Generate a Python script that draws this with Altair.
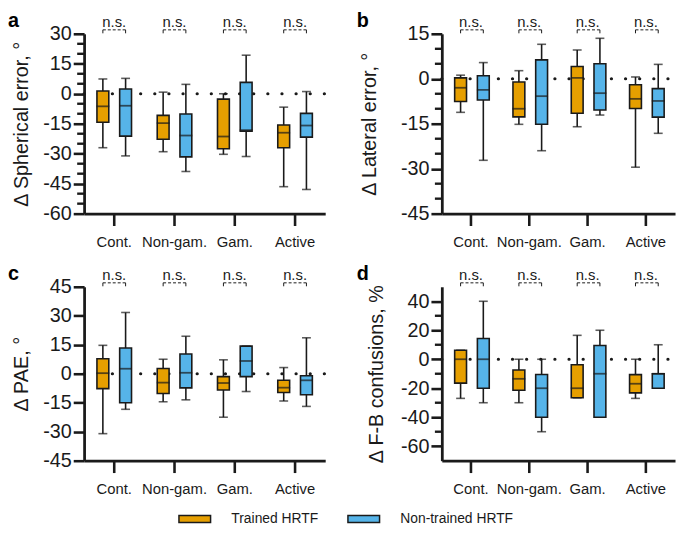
import altair as alt
import pandas as pd

cats = ["Cont.", "Non-gam.", "Gam.", "Active"]
groups = ["Trained HRTF", "Non-trained HRTF"]
colors = ["#E69F00", "#56B4E9"]

# box statistics per category: [whisker low, Q1, median, Q3, whisker high]
sph_trained = [[-27, -14.3, -6.3, 1.4, 7.4], [-29, -22.8, -14.7, -10.8, 0.8],
               [-30.3, -27.5, -21.4, -2.7, 0], [-46.5, -27, -19.5, -15.6, -6.7]]
sph_nontrained = [[-31.1, -21.2, -6, 2.4, 7.7], [-38.9, -31.6, -20.9, -10.1, 4.7],
                  [-31.4, -18.7, -18.2, 5.7, 19.3], [-47.9, -21.7, -15.9, -9.8, 1.1]]

lat_trained = [[-11.2, -7.6, -3, 0.3, 1.2], [-15.2, -12.7, -10, -1.1, 2.7],
               [-16, -11.5, 0.3, 4.1, 9.6], [-29.5, -9.9, -6.7, -2, 0.6]]
lat_nontrained = [[-27.2, -7.1, -3.7, 1, 5.4], [-24, -15.2, -5.8, 6.3, 11.5],
                  [-12.1, -10.4, -4.8, 5, 13.5], [-18.2, -12.8, -7.4, -3.3, 4.8]]

pae_trained = [[-31, -7.7, 0.3, 7.8, 14.7], [-14.5, -10.2, -4.6, 2.7, 7.5],
               [-22.5, -8.4, -4.8, -1.5, 7.2], [-14.1, -9.7, -7.2, -3.4, 3.2]]
pae_nontrained = [[-18.4, -15, 2.6, 13.3, 31.7], [-13.5, -7.3, 0.5, 10.2, 19.4],
                  [-9.2, -1.5, 6.6, 14.3, 14.3], [-16.9, -10.9, -3.4, -1, 18.6]]

fb_trained = [[-27, -16.5, 0, 6.2, 6.2], [-30, -21.4, -13.5, -7.4, 0],
              [-26.6, -26.6, -20, -3.8, 16.5], [-27, -23.2, -16.9, -10.6, 0]]
fb_nontrained = [[-30, -20, 0, 14.3, 40], [-50, -40, -20, -10.5, 0],
                 [-40, -40, -10, 9.5, 20], [-20, -20, -10, -10, 10]]

sph_major = [-60, -45, -30, -15, 0, 15, 30]
sph_minor = [-55, -50, -40, -35, -25, -20, -10, -5, 5, 10, 20, 25]
lat_major = [-45, -30, -15, 0, 15]
lat_minor = [-40, -35, -25, -20, -10, -5, 5, 10]
pae_major = [-45, -30, -15, 0, 15, 30, 45]
pae_minor = []
fb_major = [-60, -40, -20, 0, 20, 40]
fb_minor = [-50, -30, -10, 10, 30]

INK = "#1a1a1a"
FONT = "Liberation Sans"


def panel(letter, title, trained, nontrained, domain, major, minor, width, height, title_x, letter_x):
    rows = []
    for ci, c in enumerate(cats):
        for g, vals in ((groups[0], trained[ci]), (groups[1], nontrained[ci])):
            lo, q1, med, q3, hi = vals
            rows.append(dict(cat=c, grp=g, lo=lo, q1=q1, med=med, q3=q3, hi=hi))
    df = pd.DataFrame(rows)

    step = width / len(cats)
    po = (step / 23.0 - 2) / 2
    xscale = alt.Scale(domain=cats, paddingInner=0, paddingOuter=0)
    xaxis = alt.Axis(title=None, labelAngle=0, labelFontSize=15, labelFont=FONT, labelColor=INK,
                     tickSize=12, tickWidth=2.6, tickColor=INK, domainWidth=2.8, domainColor=INK,
                     labelPadding=9, grid=False)
    xs = alt.X("cat:N", sort=cats, scale=xscale, axis=xaxis)
    xo = alt.XOffset("grp:N", sort=groups, scale=alt.Scale(domain=groups, paddingInner=0, paddingOuter=po))
    yscale = alt.Scale(domain=domain, nice=False, zero=False)
    yaxis = alt.Axis(values=major, title=title, titleX=title_x, titleY=height / 2,
                     titleAngle=270, titleAlign="center", titleBaseline="middle",
                     titleFontSize=20, titleFontWeight="normal", titleFont=FONT, titleColor=INK,
                     labelFontSize=20, labelFont=FONT, labelColor=INK, labelPadding=2,
                     labelOverlap=False, labelFlush=False, labelBound=False,
                     labelExpr="'' + datum.value",
                     tickSize=11, tickWidth=2.6, tickColor=INK, domainWidth=2.8,
                     domainColor=INK, grid=False)

    def Y(field):
        return alt.Y(field, scale=yscale, axis=yaxis)

    base = alt.Chart(df)
    zero = alt.Chart(pd.DataFrame({"z": [0]})).mark_rule(
        strokeDash=[0.1, 14.2], strokeCap="round", strokeWidth=3.2, color=INK
    ).encode(y=Y("z:Q"), x=alt.value(0), x2=alt.value(width))
    whisk = base.mark_rule(color=INK, strokeWidth=1.6).encode(
        x=xs, xOffset=xo, y=Y("lo:Q"), y2="hi:Q")
    cap_lo = base.mark_tick(orient="horizontal", size=9, thickness=1.6, color=INK).encode(
        x=xs, xOffset=xo, y=Y("lo:Q"))
    cap_hi = base.mark_tick(orient="horizontal", size=9, thickness=1.6, color=INK).encode(
        x=xs, xOffset=xo, y=Y("hi:Q"))
    box = base.mark_bar(size=12, stroke=INK, strokeWidth=1.6).encode(
        x=xs, xOffset=xo, y=Y("q1:Q"), y2="q3:Q",
        color=alt.Color("grp:N", sort=groups, scale=alt.Scale(domain=groups, range=colors),
                        legend=alt.Legend(orient="none", legendX=95, legendY=474, direction="horizontal",
                                          title=None, symbolType="M-1,-0.22L1,-0.22L1,0.22L-1,0.22Z",
                                          symbolSize=1024, symbolStrokeColor=INK, symbolStrokeWidth=1.5,
                                          symbolOpacity=1, labelFontSize=14, labelFont=FONT,
                                          labelColor=INK, labelOffset=20, columnPadding=27)))
    med = base.mark_tick(orient="horizontal", size=13, thickness=1.8, color=INK).encode(
        x=xs, xOffset=xo, y=Y("med:Q"))

    ns_df = pd.DataFrame({"cat": cats, "t": ["n.s."] * 4})
    ns = alt.Chart(ns_df).mark_text(fontSize=15, font=FONT, color=INK, baseline="alphabetic").encode(
        x=xs, text="t:N", y=alt.value(-7))
    br_df = pd.DataFrame([dict(cat=c, grp=g) for c in cats for g in groups])
    br_h = alt.Chart(br_df).mark_line(strokeDash=[3, 2], strokeWidth=1, color=INK).encode(
        x=xs, xOffset=xo, y=alt.value(-4), detail="cat:N")
    br_v = alt.Chart(br_df).mark_rule(strokeWidth=1, color=INK).encode(
        x=xs, xOffset=xo, y=alt.value(-4), y2=alt.value(-0.5))
    let = alt.Chart(pd.DataFrame({"t": [letter]})).mark_text(
        fontSize=20, fontWeight="bold", font=FONT, color="#000", align="left", baseline="alphabetic"
    ).encode(text="t:N", x=alt.value(letter_x), y=alt.value(-7))

    main = alt.layer(zero, whisk, cap_lo, cap_hi, box, med, ns, br_h, br_v, let)
    if not minor:
        return main.properties(width=width, height=height)

    # minor ticks: short rules just left of the y-axis line, positioned by the shared y scale
    mdf = pd.DataFrame({"m": minor})
    mt = alt.Chart(mdf).mark_rule(color=INK, strokeWidth=2.4).encode(
        y=alt.Y("m:Q", scale=yscale, axis=None), x=alt.value(-7), x2=alt.value(0))
    return alt.layer(main, mt).resolve_scale(y="shared").resolve_axis(y="independent").properties(
        width=width, height=height)


a = panel("a", "Δ  Spherical error, °", sph_trained, sph_nontrained, [-60, 30], sph_major, sph_minor,
          244, 182, -63, -77)
b = panel("b", "Δ  Lateral error, °", lat_trained, lat_nontrained, [-45, 15], lat_major, lat_minor,
          236, 182, -73, -86)
c = panel("c", "Δ  PAE, °", pae_trained, pae_nontrained, [-45, 45], pae_major, pae_minor,
          244, 176, -63, -77)
d = panel("d", "Δ  F-B confusions, %", fb_trained, fb_nontrained, [-70, 50], fb_major, fb_minor,
          236, 176, -66, -86)

chart = alt.concat(a, b, c, d, columns=2, spacing=alt.RowColnumber(row=74, column=118),
                   bounds="flush").properties(
    padding={"left": 0, "top": 0, "right": 0, "bottom": 0}, background="white"
).configure_view(stroke=None)

chart.save("out.html", embed_options={"renderer": "svg", "actions": False})
